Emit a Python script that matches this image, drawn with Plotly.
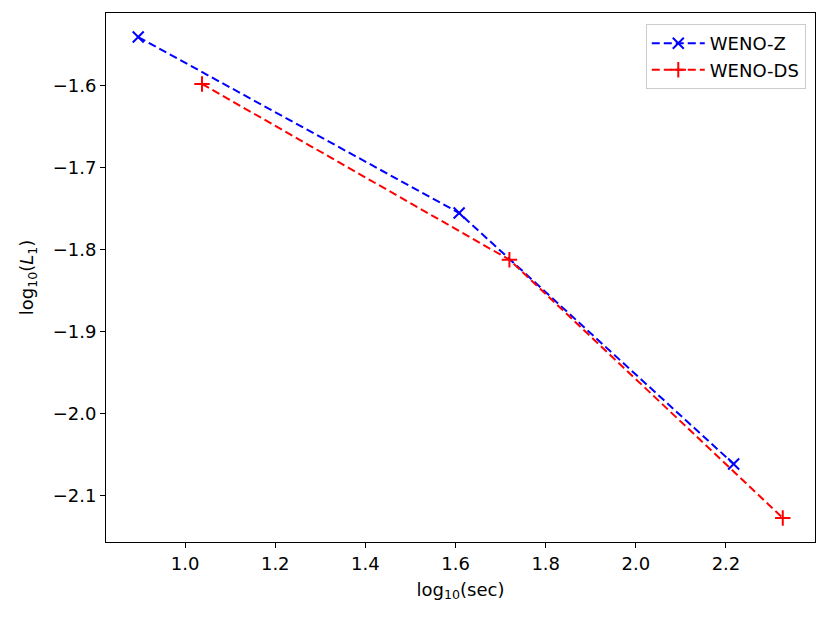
import plotly.graph_objects as go

# log10 of run time (sec) and log10 of L1 error
weno_z_x = [0.896, 1.608, 2.217]
weno_z_y = [-1.5406, -1.7554, -2.0617]
weno_ds_x = [1.0375, 1.7195, 2.326]
weno_ds_y = [-1.5979, -1.8124, -2.1276]

x_ticks = [1.0, 1.2, 1.4, 1.6, 1.8, 2.0, 2.2]
y_ticks = [-1.6, -1.7, -1.8, -1.9, -2.0, -2.1]


def padded_range(*series, pad=0.05):
    lo = min(min(s) for s in series)
    hi = max(max(s) for s in series)
    span = hi - lo
    return [lo - pad * span, hi + pad * span]


fig = go.Figure()
fig.add_trace(
    go.Scatter(
        x=weno_z_x,
        y=weno_z_y,
        mode="lines+markers",
        name="WENO-Z",
        line=dict(color="#0000ff", width=2, dash="8px,4px"),
        marker=dict(symbol="x-thin", size=11, line=dict(color="#0000ff", width=2)),
    )
)
fig.add_trace(
    go.Scatter(
        x=weno_ds_x,
        y=weno_ds_y,
        mode="lines+markers",
        name="WENO-DS",
        line=dict(color="#ff0000", width=2, dash="8px,4px"),
        marker=dict(symbol="cross-thin", size=11, line=dict(color="#ff0000", width=2)),
    )
)

axis_style = dict(
    showline=True,
    linecolor="black",
    linewidth=1,
    mirror=True,
    showgrid=False,
    zeroline=False,
    ticks="outside",
    ticklen=5,
    tickwidth=1,
    tickcolor="black",
    tickfont=dict(size=18, color="black"),
    tickformat=".1f",
)

# the page body adds an 8px offset, so the figure is a bit smaller than the window
fig.update_layout(
    width=822,
    height=612,
    margin=dict(l=98, r=15, t=5, b=78),
    paper_bgcolor="white",
    plot_bgcolor="white",
    font=dict(family="DejaVu Sans", size=18, color="black"),
    legend=dict(
        x=0.987,
        y=0.979,
        xanchor="right",
        yanchor="top",
        bgcolor="white",
        bordercolor="#cccccc",
        borderwidth=1,
        itemwidth=53,
        font=dict(size=18),
    ),
    xaxis=dict(
        axis_style,
        range=padded_range(weno_z_x, weno_ds_x),
        tickvals=x_ticks,
        title=dict(text="log<sub>10</sub>(sec)", standoff=10, font=dict(size=18)),
    ),
    yaxis=dict(
        axis_style,
        range=padded_range(weno_z_y, weno_ds_y),
        tickvals=y_ticks,
        title=dict(text="log<sub>10</sub>(<i>L</i><sub>1</sub>)", standoff=14, font=dict(size=18)),
    ),
)

fig.write_html("out.html")
